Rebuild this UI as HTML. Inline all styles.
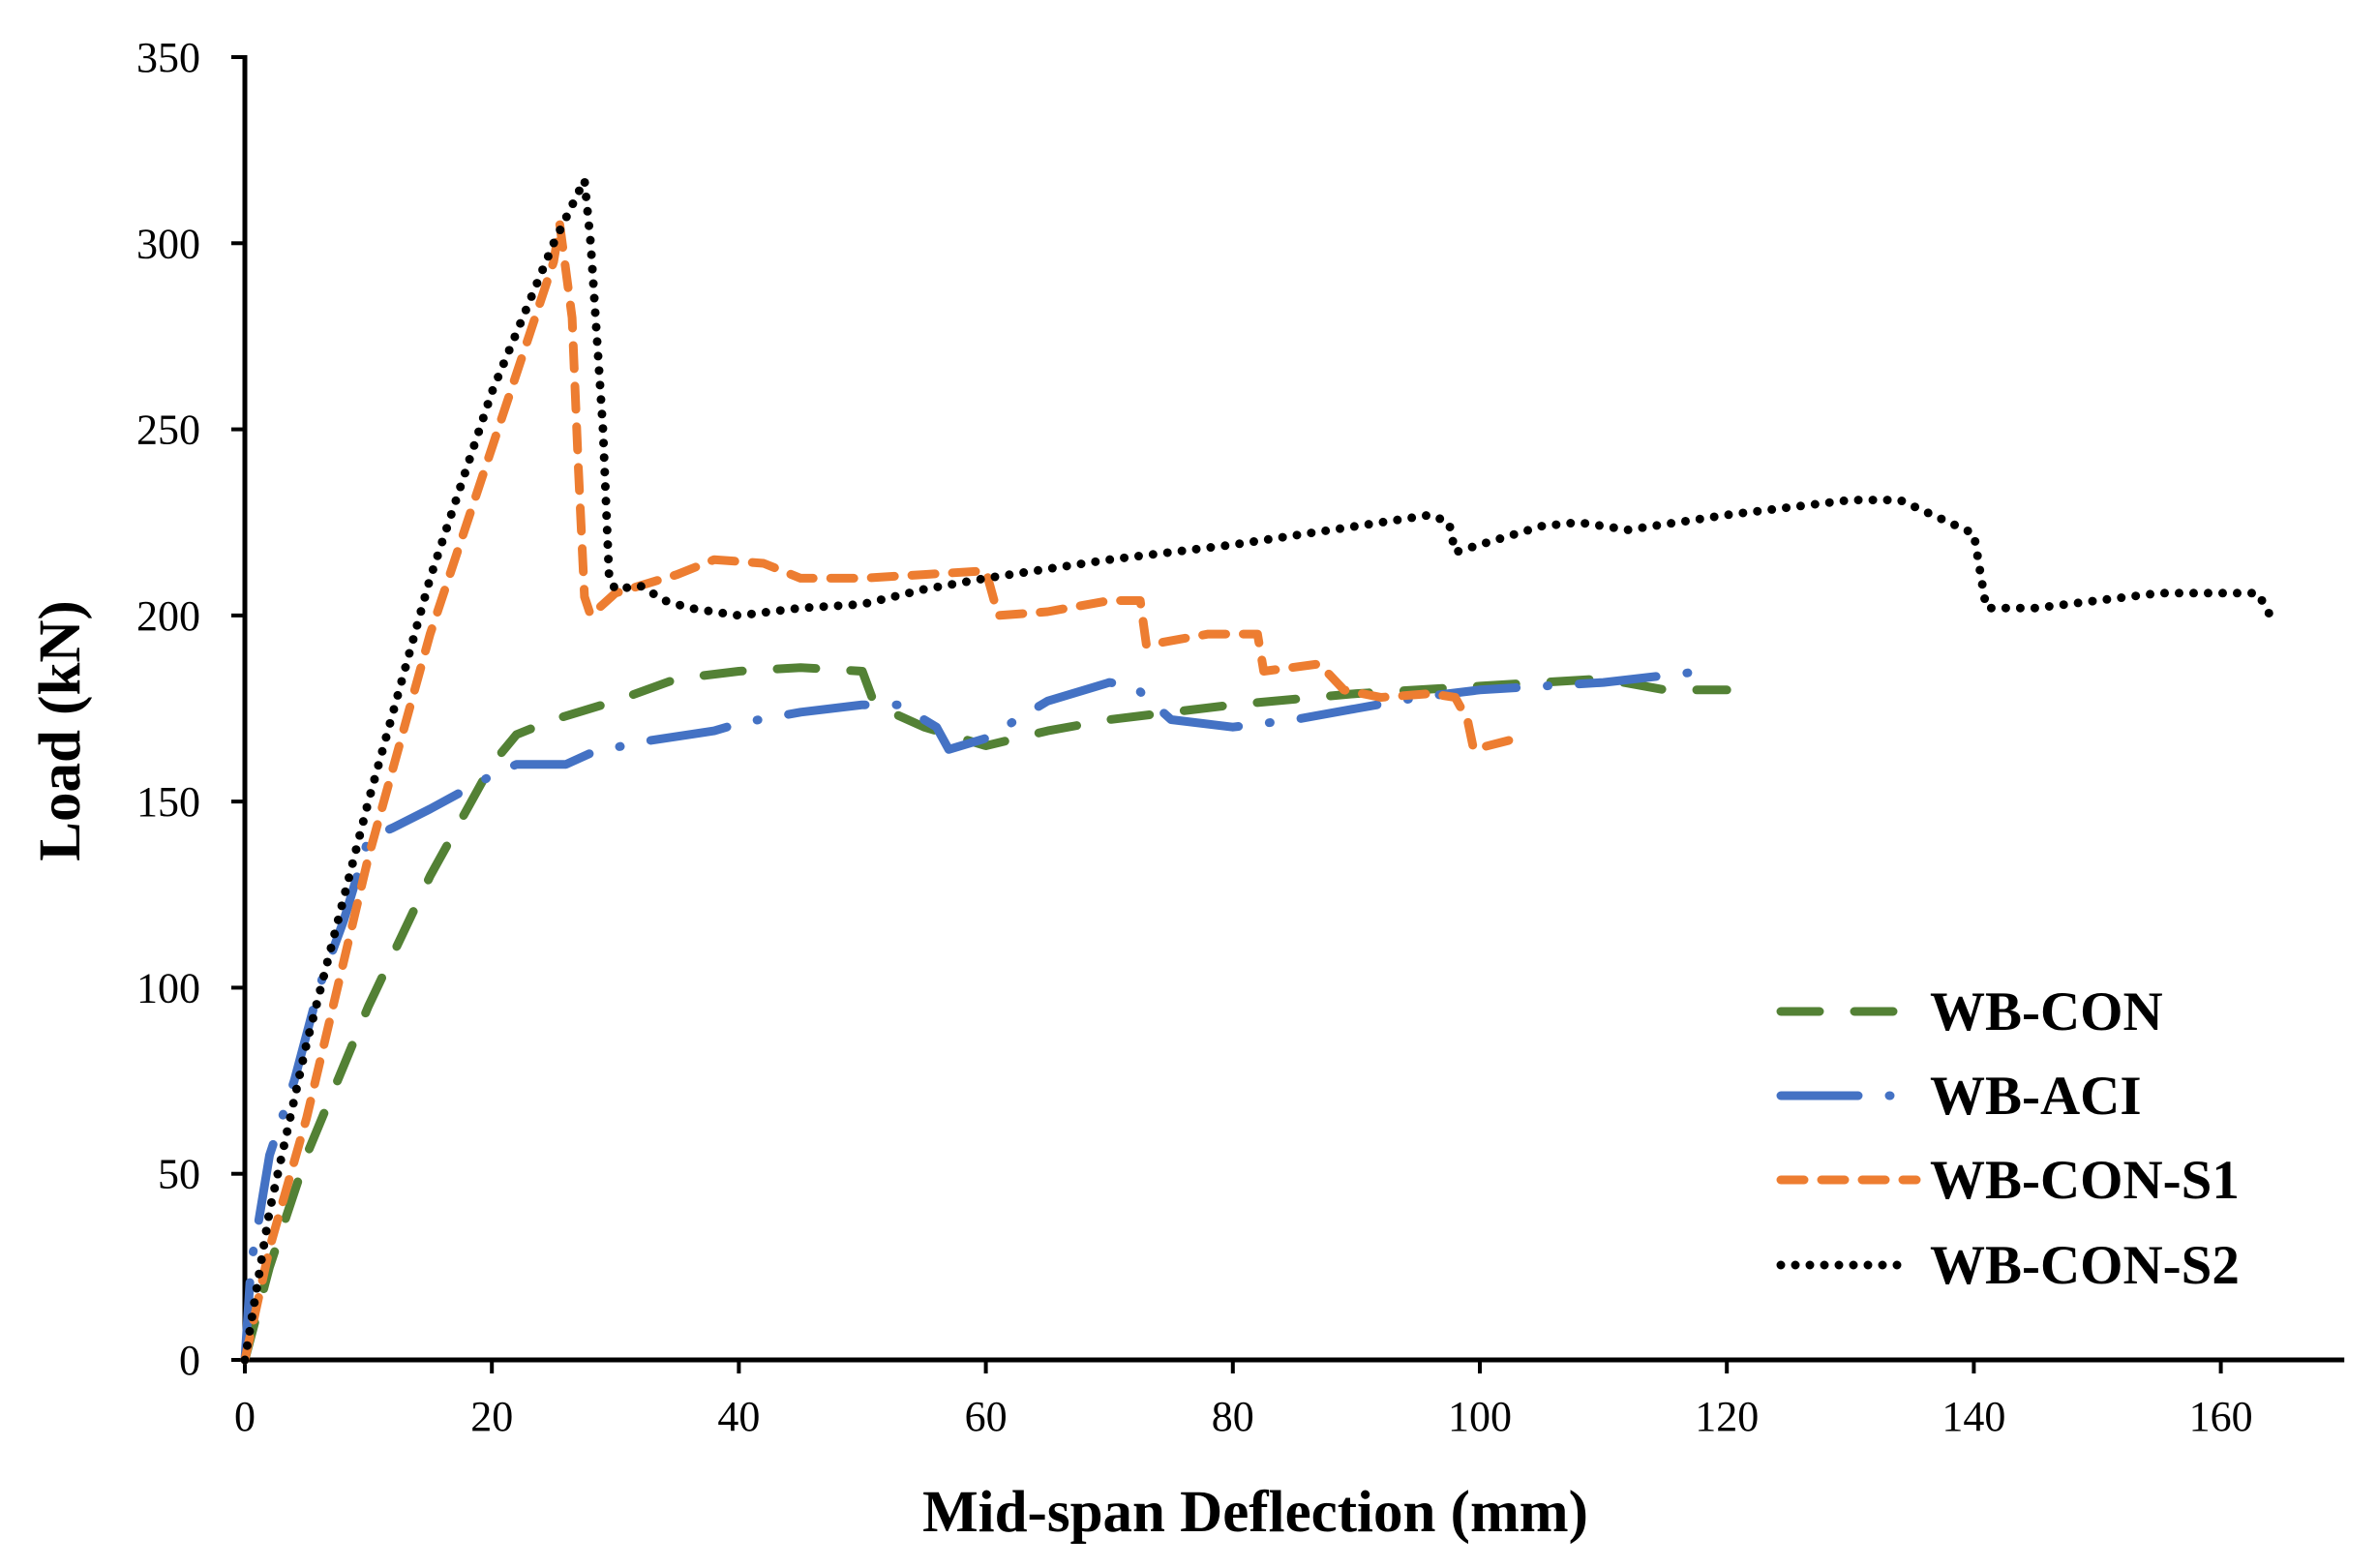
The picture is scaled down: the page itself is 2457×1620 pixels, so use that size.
<!DOCTYPE html>
<html><head><meta charset="utf-8"><style>
html,body{margin:0;padding:0;background:#fff}
svg{display:block}
text{font-family:"Liberation Serif",serif}
</style></head><body>
<svg id="chart" width="2457" height="1620" viewBox="0 0 2457 1620" xmlns="http://www.w3.org/2000/svg">
<g id="axes"></g>
<g id="series"></g>
<text x="1297" y="1582" text-anchor="middle" font-size="61" font-weight="bold">Mid-span Deflection (mm)</text>
<text transform="translate(82,755) rotate(-90)" text-anchor="middle" font-size="61" font-weight="bold">Load (kN)</text>
<g id="legend"></g>
</svg>
<script>
const xTicks=[0,20,40,60,80,100,120,140,160];
const yTicks=[0,50,100,150,200,250,300,350];
const conX=[0,2,5,10,15,20,22,25,30,35,40,45,50,51,55,60,65,70,80,90,100,110,115,120];
const conY=[0,25,55,95,130,160,168,172,177,183,185,186,185,176,170,165,169,172,176,179,181,183,180,180];
const aciX=[0,0.3,0.5,1,2,3,4,6,8,10,12,15,20,22,26,28,32,38,40,45,50,53,56,57,60,65,70,72,73,75,80,85,90,95,100,110,118];
const aciY=[0,15,26,35,55,65,75,100,118,140,143,148,157,160,160,163,166,169,171,174,176,176,170,164,167,177,182,181,178,172,170,172,175,178,180,182,185];
const s1X=[0,2,5,10,15,20,25,25.5,26.5,27,27.5,28,30,35,38,42,45,50,55,60,61,65,70,72.5,73,78,82,82.5,87,89,92,96,98,99,99.5,103];
const s1Y=[0,30,65,135,195,245,295,305,280,240,205,200,206,211,215,214,210,210,211,212,200,201,204,204,192,195,195,185,187,180,178,179,178,172,164,167];
const s2X=[0,2,5,10,15,20,25,27.5,28,29,29.5,30,32,34,36,40,45,50,55,60,70,80,90,96,97.5,98,100,105,108,112,120,130,134,138,140,141,145,150,155,160,163,164];
const s2Y=[0,40,85,150,210,260,300,317,300,250,210,207,208,204,202,200,202,203,207,210,215,219,224,227,225,217,219,224,225,223,227,231,231,225,222,202,202,204,206,206,206,200];
const legendNames=["WB-CON","WB-ACI","WB-CON-S1","WB-CON-S2"];

const X0=253,XS=12.76,Y0=1405,YS=(1405-59)/350;
const sx=v=>X0+v*XS, sy=v=>Y0-v*YS;
const NS="http://www.w3.org/2000/svg";
function mk(tag,attrs,parent){const e=document.createElementNS(NS,tag);for(const k in attrs)e.setAttribute(k,attrs[k]);parent.appendChild(e);return e;}
const axes=document.getElementById('axes');
let a=mk('line',{x1:X0,y1:Y0,x2:sx(170),y2:Y0,stroke:'#000','stroke-width':5},axes);


a=mk('line',{x1:X0,y1:Y0+2,x2:X0,y2:sy(350)-2,stroke:'#000','stroke-width':5},axes);


xTicks.forEach(v=>{
 const t=mk('line',{x1:sx(v),y1:Y0,x2:sx(v),y2:Y0+14,stroke:'#000','stroke-width':4},axes);
 
 
 const l=mk('text',{x:sx(v),y:Y0+73,'text-anchor':'middle','font-size':44},axes);l.textContent=v;
 
 
});
yTicks.forEach(v=>{
 const t=mk('line',{x1:X0-14,y1:sy(v),x2:X0,y2:sy(v),stroke:'#000','stroke-width':4},axes);
 
 
 const l=mk('text',{x:X0-46,y:sy(v)+15,'text-anchor':'end','font-size':44},axes);l.textContent=v;
 
 
});
const styles=[
 {c:'#538135',d:'40 36',cap:'round'},
 {c:'#4472c4',d:'80 32 1 32',cap:'round'},
 {c:'#ed7d31',d:'24 18',cap:'round'},
 {c:'#000',d:'0 15',cap:'round'}];
const data=[[conX,conY],[aciX,aciY],[s1X,s1Y],[s2X,s2Y]];
const sg=document.getElementById('series');
const names=['series-wb-con','series-wb-aci','series-wb-con-s1','series-wb-con-s2'];
data.forEach((d,i)=>{
 const pts=d[0].map((x,j)=>sx(x).toFixed(1)+','+sy(d[1][j]).toFixed(1)).join(' ');
 const p=mk('polyline',{points:pts,fill:'none',stroke:styles[i].c,'stroke-width':9,'stroke-dasharray':styles[i].d,'stroke-linecap':styles[i].cap,'stroke-linejoin':'round'},sg);
 
 
});
const lg=document.getElementById('legend');
const ly=[1045,1132,1219,1307];
legendNames.forEach((n,i)=>{
 const g=mk('g',{},lg);
 
 
 mk('line',{x1:1840,y1:ly[i],x2:(i==3?1975:1980),y2:ly[i],stroke:styles[i].c,'stroke-width':9,'stroke-dasharray':styles[i].d,'stroke-linecap':'round'},g);
 const t=mk('text',{x:1994,y:ly[i]+19,'font-size':57,'font-weight':'bold'},g);t.textContent=n;
});
</script>
</body></html>
